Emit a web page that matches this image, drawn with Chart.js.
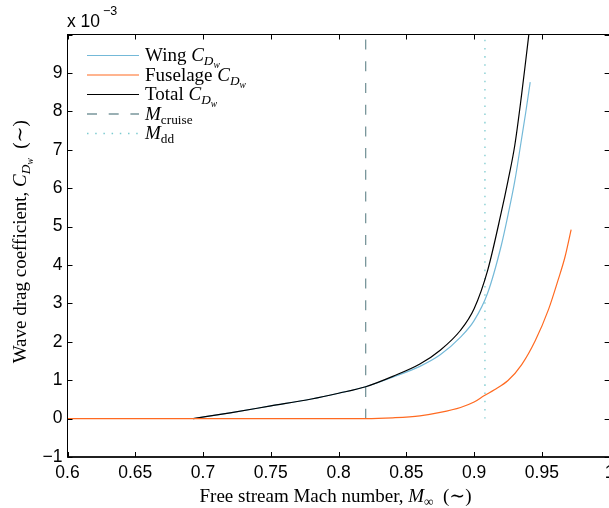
<!DOCTYPE html>
<html>
<head>
<meta charset="utf-8">
<script src="https://cdn.jsdelivr.net/npm/chart.js@4/dist/chart.umd.min.js"></script>
<style>
  html, body { margin: 0; padding: 0; overflow: hidden; background: #fff; }
  canvas { display: block; }
</style>
</head>
<body>
<canvas id="chart" width="620" height="508"></canvas>
<script>
// Free-stream Mach number grid for the wing and total curves
const machWingTotal = [0.6928, 0.72, 0.75, 0.78, 0.80, 0.82, 0.84, 0.86, 0.875, 0.89,
                       0.90, 0.91, 0.92, 0.925, 0.93, 0.935, 0.938, 0.9414];
// Wave drag coefficients, in units of 1e-3
const wingCd  = [0, 0.15, 0.33, 0.51, 0.66, 0.83, 1.08, 1.36, 1.66, 2.12,
                 2.55, 3.27, 4.50, 5.30, 6.18, 7.28, 7.95, 8.76];
const totalCd = [0, 0.15, 0.33, 0.51, 0.66, 0.83, 1.10, 1.42, 1.78, 2.30,
                 2.86, 3.86, 5.36, 6.19, 7.11, 8.42, 9.29, 10.3];
// Fuselage curve runs on its own Mach grid
const machFuselage = [0.60, 0.82, 0.84, 0.86, 0.875, 0.89, 0.90, 0.9076, 0.915, 0.925,
                      0.935, 0.945, 0.955, 0.962, 0.967, 0.9716];
const fuselageCd   = [0, 0, 0.02, 0.07, 0.16, 0.29, 0.43, 0.60, 0.75, 0.99,
                      1.40, 2.02, 2.85, 3.61, 4.20, 4.92];
// Reference Mach numbers
const machCruise = 0.82;
const machDragDivergence = 0.908;
// Axis ranges and steps
const xRange = [0.6, 1.0];
const xStep = 0.05;
const yRange = [-1, 10];
const yStep = 1;

const SANS = '"Liberation Sans", Arial, Helvetica, sans-serif';
const SERIF = '"Liberation Serif", "DejaVu Serif", "Times New Roman", serif';
const TXT = 19;

const pairs = (xs, ys) => xs.map((x, i) => ({ x, y: ys[i] }));
const vline = m => [{ x: m, y: 0 }, { x: m, y: yRange[1] }];

// Rich text pieces: [text, italic?, size factor, baseline shift factor]
const CDw = [['C', true, 1, 0], ['D', true, 0.7, 0.22], ['w', true, 0.5, 0.38]];
const legendParts = [
  [['Wing ', false, 1, 0], ...CDw],
  [['Fuselage ', false, 1, 0], ...CDw],
  [['Total ', false, 1, 0], ...CDw],
  [['M', true, 1, 0], ['cruise', false, 0.7, 0.22]],
  [['M', true, 1, 0], ['dd', false, 0.7, 0.22]]
];
const xTitleParts = [['Free stream Mach number, ', false, 1, 0], ['M', true, 1, 0],
                     ['\u221E', false, 0.7, 0.22], ['  (\u223C)', false, 1, 0]];
const yTitleParts = [['Wave drag coefficient, ', false, 1, 0], ...CDw, ['  (\u223C)', false, 1, 0]];

function fontOf(p) {
  return (p[1] ? 'italic ' : '') + (TXT * p[2]) + 'px ' + SERIF;
}
function richText(ctx, parts, x, y, align) {
  const widths = parts.map(p => { ctx.font = fontOf(p); return ctx.measureText(p[0]).width; });
  const total = widths.reduce((a, b) => a + b, 0);
  let cx = align === 'center' ? x - total / 2 : x;
  ctx.textAlign = 'left';
  ctx.textBaseline = 'alphabetic';
  parts.forEach((p, i) => {
    ctx.font = fontOf(p);
    ctx.fillText(p[0], cx, y + p[3] * TXT);
    cx += widths[i];
  });
}

// Box with inward tick marks on all four sides
const framePlugin = {
  id: 'frame',
  afterDatasetsDraw(chart) {
    const { ctx, chartArea: a, scales: { x, y } } = chart;
    ctx.save();
    ctx.strokeStyle = '#000';
    ctx.lineWidth = 1;
    ctx.beginPath();
    x.ticks.forEach(t => {
      const px = Math.round(x.getPixelForValue(t.value)) + 0.5;
      ctx.moveTo(px, a.bottom); ctx.lineTo(px, a.bottom - 5);
      ctx.moveTo(px, a.top); ctx.lineTo(px, a.top + 5);
    });
    y.ticks.forEach(t => {
      const py = Math.round(y.getPixelForValue(t.value)) + 0.5;
      ctx.moveTo(a.left, py); ctx.lineTo(a.left + 5, py);
      ctx.moveTo(a.right, py); ctx.lineTo(a.right - 5, py);
    });
    ctx.stroke();
    ctx.strokeRect(a.left, a.top, a.right - a.left, a.bottom - a.top);
    ctx.lineWidth = 1.6;
    ctx.beginPath();
    ctx.moveTo(a.left, a.bottom); ctx.lineTo(a.right, a.bottom);
    ctx.stroke();
    ctx.restore();
  }
};

// Legend, axis titles and exponent note
const textPlugin = {
  id: 'texts',
  afterDraw(chart) {
    const { ctx, chartArea: a } = chart;
    ctx.save();
    ctx.fillStyle = '#000';

    // legend
    const rowY0 = 55, rowStep = 19.5;
    chart.data.datasets.forEach((ds, i) => {
      const yy = rowY0 + i * rowStep;
      ctx.save();
      ctx.strokeStyle = ds.borderColor;
      ctx.lineWidth = ds.borderWidth;
      ctx.setLineDash(ds.borderDash || []);
      ctx.beginPath();
      ctx.moveTo(87, yy + 0.5); ctx.lineTo(139, yy + 0.5);
      ctx.stroke();
      ctx.restore();
      richText(ctx, legendParts[i], 145, yy + 6);
    });

    // x-axis title
    richText(ctx, xTitleParts, (a.left + a.right) / 2 - 3, 502, 'center');

    // y-axis title
    ctx.save();
    ctx.translate(26, (a.top + a.bottom) / 2 - 4);
    ctx.rotate(-Math.PI / 2);
    richText(ctx, yTitleParts, 0, 0, 'center');
    ctx.restore();

    // scale exponent
    ctx.font = '17.5px ' + SANS;
    ctx.textAlign = 'left';
    ctx.textBaseline = 'alphabetic';
    ctx.fillText('x 10', 67, 27);
    ctx.font = '12.5px ' + SANS;
    ctx.fillText('\u22123', 103, 15);
    ctx.restore();
  }
};

const lineBase = { pointRadius: 0, fill: false, cubicInterpolationMode: 'monotone' };

new Chart(document.getElementById('chart'), {
  type: 'line',
  data: {
    datasets: [
      { ...lineBase, label: 'Wing', data: pairs(machWingTotal, wingCd),
        borderColor: '#74b9d8', borderWidth: 1.2, order: 3 },
      { ...lineBase, label: 'Fuselage', data: pairs(machFuselage, fuselageCd),
        borderColor: '#ff6a21', borderWidth: 1.2, order: 1 },
      { ...lineBase, label: 'Total', data: pairs(machWingTotal, totalCd),
        borderColor: '#000000', borderWidth: 1.2, order: 2 },
      { ...lineBase, label: 'M_cruise', data: vline(machCruise),
        borderColor: '#7a979c', borderWidth: 1.3, borderDash: [10, 11.7], order: 4 },
      { ...lineBase, label: 'M_dd', data: vline(machDragDivergence),
        borderColor: '#7ccbd0', borderWidth: 1.3, borderDash: [1.5, 6.7], order: 5 }
    ]
  },
  options: {
    responsive: false,
    animation: false,
    devicePixelRatio: 1,
    layout: { padding: { left: 0, top: 34.5, right: 9.5, bottom: 0 } },
    plugins: { legend: { display: false }, tooltip: { enabled: false } },
    scales: {
      x: {
        type: 'linear', min: xRange[0], max: xRange[1],
        afterFit(s) { s.height = 51; },
        grid: { display: false, drawTicks: false },
        border: { display: false },
        ticks: {
          stepSize: xStep, padding: 5.5, color: '#000', maxRotation: 0, autoSkip: false,
          font: { family: SANS, size: 17.5 },
          callback: v => String(Math.round(v * 100) / 100)
        }
      },
      y: {
        type: 'linear', min: yRange[0], max: yRange[1],
        afterFit(s) { s.width = 67.5; },
        grid: { display: false, drawTicks: false },
        border: { display: false },
        ticks: {
          stepSize: yStep, padding: 5, color: '#000', autoSkip: false,
          font: { family: SANS, size: 17.5 },
          callback: v => v === yRange[1] ? '' : (v < 0 ? '\u2212' + (-v) : String(v))
        }
      }
    }
  },
  plugins: [framePlugin, textPlugin]
});
</script>
</body>
</html>
